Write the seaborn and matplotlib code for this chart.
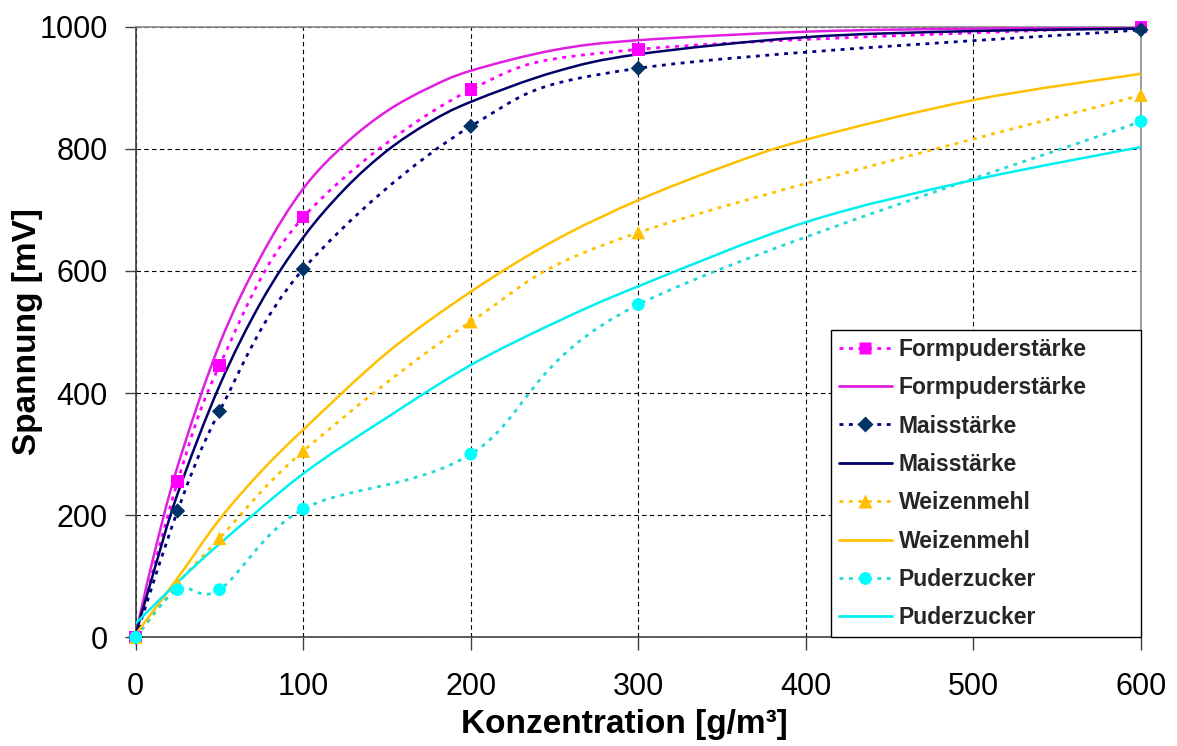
import numpy as np
import pandas as pd
import matplotlib
matplotlib.use("Agg")
import matplotlib.pyplot as plt
import seaborn as sns
from matplotlib.path import Path
from matplotlib.patches import PathPatch
from matplotlib.lines import Line2D

# ---------------- data ----------------
konz = [0, 25, 50, 100, 200, 300, 600]
form_mess = [0, 255, 445, 688, 897, 963, 1000]
mais_mess = [0, 207, 370, 603, 837, 932, 995]
weizen_mess = [0, 88, 162, 305, 517, 663, 888]
puder_mess = [0, 78, 78, 210, 300, 545, 845]

fit_x_starch = [0, 10, 25, 50, 75, 100, 125, 150, 175, 200, 250, 300, 400, 500, 600]
form_fit = [5, 125, 280, 480, 625, 735, 808, 862, 900, 928, 962, 978, 992, 997, 999]
mais_fit = [5, 100, 235, 412, 550, 655, 735, 797, 843, 877, 926, 955, 983, 993, 997]
fit_x_weizen = [0, 25, 50, 75, 100, 150, 200, 250, 300, 350, 400, 500, 600]
weizen_fit = [5, 97, 193, 272, 340, 466, 566, 650, 716, 770, 815, 880, 923]
fit_x_puder = [0, 25, 50, 100, 150, 200, 250, 300, 400, 500, 600]
puder_fit = [23, 90, 153, 268, 360, 446, 515, 575, 680, 749, 803]

labels = ["Formpuderstärke", "Maisstärke", "Weizenmehl", "Puderzucker"]
x_ticks = [0, 100, 200, 300, 400, 500, 600]
y_ticks = [0, 200, 400, 600, 800, 1000]

# ---------------- style ----------------
sns.set_theme(style="white")
plt.rcParams["font.family"] = ["Liberation Sans", "DejaVu Sans"]

fig = plt.figure(figsize=(11.77, 7.46), dpi=100)
ax = fig.add_axes([0.1153, 0.1457, 0.8541, 0.8184])

ax.set_xlim(0, 600)
ax.set_ylim(0, 1000)
ax.set_xticks(x_ticks)
ax.set_yticks(y_ticks)
ax.grid(True, color="black", linestyle=(0, (4, 3)), linewidth=0.8, zorder=0)
ax.set_axisbelow(True)

dot_ls = (0, (1.4, 2.0))


def smooth_path(xs, ys):
    pts = np.column_stack([xs, ys]).astype(float)
    n = len(pts)
    verts = [pts[0]]
    codes = [Path.MOVETO]
    for i in range(n - 1):
        p0 = pts[max(i - 1, 0)]
        p1 = pts[i]
        p2 = pts[i + 1]
        p3 = pts[min(i + 2, n - 1)]
        c1 = p1 + (p2 - p0) / 6.0
        c2 = p2 - (p3 - p1) / 6.0
        verts += [c1, c2, p2]
        codes += [Path.CURVE4] * 3
    return Path(verts, codes)


series = [
    (form_mess, fit_x_starch, form_fit, "#FF00FF", "#E020E0", "s", "#FF00FF", 80),
    (mais_mess, fit_x_starch, mais_fit, "#000080", "#000066", "D", "#003366", 60),
    (weizen_mess, fit_x_weizen, weizen_fit, "#FFC000", "#FFC000", "^", "#FFC000", 95),
    (puder_mess, fit_x_puder, puder_fit, "#22D8D8", "#00F0F0", "o", "#00FFFF", 85),
]

handles = []
for (mess, fx, fy, dcol, scol, mk, mcol, ms), lab in zip(series, labels):
    ax.add_patch(PathPatch(smooth_path(konz, mess), fill=False, edgecolor=dcol,
                           linewidth=2.0, linestyle=dot_ls, zorder=2))
    ax.add_patch(PathPatch(smooth_path(fx, fy), fill=False, edgecolor=scol,
                           linewidth=1.8, linestyle="-", zorder=3))
    df_m = pd.DataFrame({"x": konz, "y": mess})
    sns.scatterplot(data=df_m, x="x", y="y", marker=mk, color=mcol, s=ms,
                    edgecolor="none", ax=ax, zorder=4, clip_on=False, legend=False)
    handles.append(Line2D([], [], color=dcol, linestyle=dot_ls, linewidth=2.0,
                          marker=mk, markersize=np.sqrt(ms), markerfacecolor=mcol,
                          markeredgecolor="none"))
    handles.append(Line2D([], [], color=scol, linewidth=2.0))

leg_labels = []
for lab in labels:
    leg_labels += [lab, lab]

leg = ax.legend(handles, leg_labels, loc="lower left",
                bbox_to_anchor=(0.6916, 0.0, 0.3084, 0.5), mode="expand",
                borderaxespad=0.0, frameon=True, fancybox=False,
                edgecolor="black", framealpha=1.0, handlelength=2.3,
                handletextpad=0.3, labelspacing=0.67, borderpad=0.35,
                prop={"weight": "bold", "size": 16.5})
leg.get_frame().set_linewidth(1.0)
leg.set_zorder(10)

# spines / ticks
for s in ["left", "bottom"]:
    ax.spines[s].set_color("#404040")
    ax.spines[s].set_linewidth(1.2)
for s in ["top", "right"]:
    ax.spines[s].set_color("#8a8a8a")
    ax.spines[s].set_linewidth(1.2)

ax.tick_params(axis="y", which="major", direction="out", length=8, width=1,
               color="#404040", pad=12, labelsize=22, left=True, labelcolor="black")
ax.tick_params(axis="x", which="major", direction="out", length=9, width=1,
               color="#404040", pad=16, labelsize=22, bottom=True, labelcolor="black")

ax.set_xlabel("Konzentration [g/m³]", fontsize=24, fontweight="bold", color="black")
ax.set_ylabel("Spannung [mV]", fontsize=24, fontweight="bold", color="black")
ax.xaxis.set_label_coords(0.486, -0.118)
ax.yaxis.set_label_coords(-0.092, 0.5)

fig.savefig("out.png", dpi=100, facecolor="white")
